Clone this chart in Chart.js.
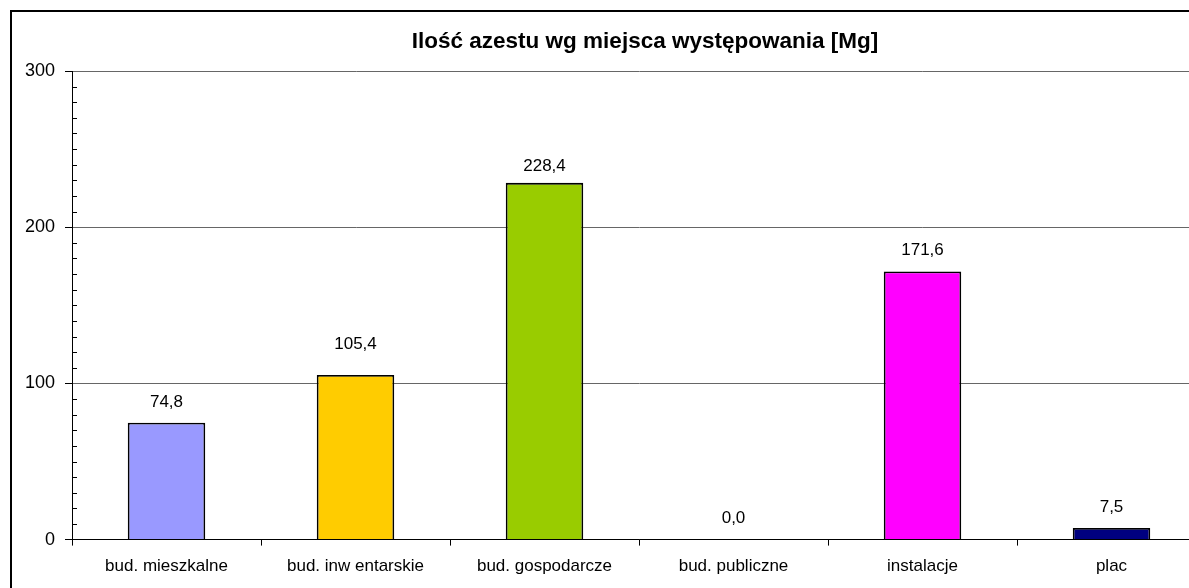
<!DOCTYPE html>
<html>
<head>
<meta charset="utf-8">
<script src="https://cdn.jsdelivr.net/npm/chart.js@4.4.1/dist/chart.umd.min.js"></script>
<style>
  html, body { margin: 0; padding: 0; background: #fff; overflow: hidden; width: 1189px; height: 588px; }
  #frame { position: absolute; left: 10px; top: 10px; width: 1280px; height: 600px; border: 2px solid #000; background: #fff; }
  #wrap { position: absolute; left: 0; top: 0; width: 1280px; height: 600px; }
</style>
</head>
<body>
<div id="frame"><div id="wrap"><canvas id="c" width="1280" height="600"></canvas></div></div>
<script>
const categories = ["bud. mieszkalne", "bud. inw entarskie", "bud. gospodarcze", "bud. publiczne", "instalacje", "plac"];
const values = [74.8, 105.4, 228.4, 0.0, 171.6, 7.5];
const barColors = ["#9999FF", "#FFCC00", "#99CC00", "#C0C0C0", "#FF00FF", "#000080"];
const yTicks = [0, 100, 200, 300];
const titleText = "Ilość azestu wg miejsca występowania [Mg]";

const FONT = "'Liberation Sans', Arial, sans-serif";

const valueLabels = {
  id: 'valueLabels',
  afterDatasetsDraw(chart, args, opts) {
    const ctx = chart.ctx;
    const meta = chart.getDatasetMeta(0);
    ctx.save();
    ctx.font = "17px " + FONT;
    ctx.fillStyle = "#000";
    ctx.textAlign = "center";
    ctx.textBaseline = "middle";
    meta.data.forEach((bar, i) => {
      const off = opts.offsets[i];
      ctx.fillText(values[i].toFixed(1).replace('.', ','), bar.x, bar.y - off);
    });
    ctx.restore();
  }
};

const chartTitle = {
  id: 'chartTitle',
  afterDraw(chart, args, opts) {
    const ctx = chart.ctx;
    ctx.save();
    ctx.font = "bold 22.5px " + FONT;
    ctx.fillStyle = "#000";
    ctx.textAlign = "center";
    ctx.textBaseline = "middle";
    ctx.fillText(titleText, opts.x, opts.y);
    ctx.restore();
  }
};

const minorTicks = {
  id: 'minorTicks',
  afterDraw(chart) {
    const y = chart.scales.y;
    const ctx = chart.ctx;
    const left = chart.chartArea.left;
    ctx.save();
    ctx.strokeStyle = "#000";
    ctx.lineWidth = 1;
    ctx.beginPath();
    for (let v = y.min; v <= y.max; v += 10) {
      if (v % 100 === 0) continue;
      const py = Math.round(y.getPixelForValue(v)) + 0.5;
      ctx.moveTo(left, py);
      ctx.lineTo(left + 5, py);
    }
    ctx.stroke();
    ctx.restore();
  }
};

new Chart(document.getElementById('c'), {
  type: 'bar',
  data: {
    labels: categories,
    datasets: [{
      data: values,
      backgroundColor: barColors,
      borderColor: "#000",
      borderWidth: 1.8,
      barPercentage: 0.41,
      categoryPercentage: 1.0
    }]
  },
  options: {
    responsive: false,
    animation: false,
    devicePixelRatio: 1,
    layout: { padding: { left: 12, right: 86, top: 59, bottom: 24 } },
    plugins: {
      legend: { display: false },
      tooltip: { enabled: false },
      title: { display: false },
      chartTitle: { x: 633, y: 30 },
      valueLabels: { offsets: [20, 31, 17, 21, 21, 21] }
    },
    scales: {
      x: {
        grid: {
          display: true,
          offset: true,
          drawOnChartArea: false,
          drawTicks: true,
          tickLength: 6,
          color: "#000"
        },
        border: { display: true, color: "#000", width: 1 },
        ticks: {
          color: "#000",
          padding: 11,
          maxRotation: 0,
          autoSkip: false,
          font: { family: FONT, size: 17 }
        }
      },
      y: {
        min: 0,
        max: 300,
        afterBuildTicks(scale) { scale.ticks = yTicks.map(v => ({ value: v })); },
        afterFit(scale) { scale.width = 48; },
        grid: {
          display: true,
          drawTicks: true,
          tickLength: 7,
          color: (c) => c.tick && c.tick.value === 0 ? "#000" : "#666",
          tickColor: "#000",
          lineWidth: 1
        },
        border: { display: true, color: "#000", width: 1 },
        ticks: {
          color: "#000",
          padding: 10,
          font: { family: FONT, size: 18 }
        }
      }
    }
  },
  plugins: [valueLabels, minorTicks, chartTitle]
});
</script>
</body>
</html>
